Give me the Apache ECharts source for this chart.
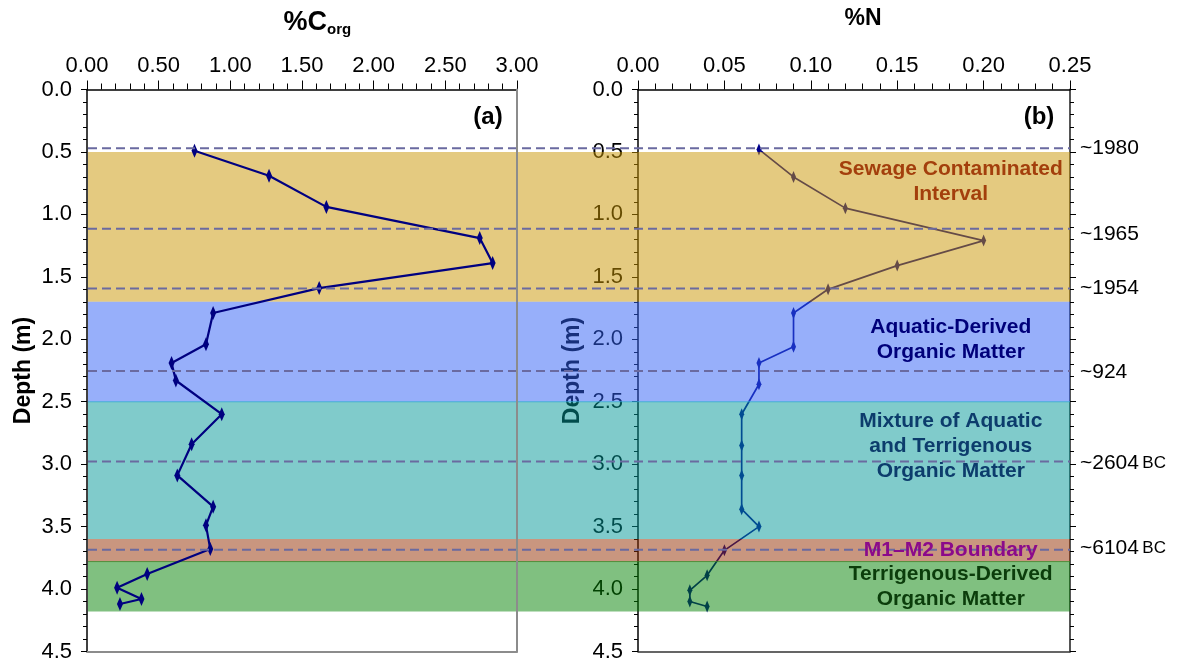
<!DOCTYPE html>
<html><head><meta charset="utf-8">
<script src="https://cdn.jsdelivr.net/npm/echarts@6/dist/echarts.min.js"></script>
<style>html,body{margin:0;padding:0;background:#fff}#c{width:1186px;height:665px}</style>
</head><body><div id="c"></div>
<script>
// ---------------- data ----------------
const corgDepth = [0.49,0.69,0.94,1.19,1.39,1.59,1.79,2.04,2.19,2.33,2.60,2.84,3.09,3.34,3.49,3.68,3.88,3.99,4.08,4.12];
const corgValue = [0.75,1.27,1.67,2.74,2.83,1.62,0.88,0.83,0.59,0.62,0.94,0.73,0.63,0.88,0.83,0.86,0.42,0.21,0.38,0.23];
const nDepth = [0.48,0.70,0.95,1.21,1.41,1.60,1.79,2.06,2.19,2.36,2.60,2.85,3.09,3.36,3.50,3.69,3.89,4.01,4.10,4.14];
const nValue = [0.070,0.090,0.120,0.200,0.150,0.110,0.090,0.090,0.070,0.070,0.060,0.060,0.060,0.060,0.070,0.050,0.040,0.030,0.030,0.040];
const bandTop    = [0.5, 1.7, 2.5, 3.6, 3.78];
const bandBottom = [1.7, 2.5, 3.6, 3.78, 4.18];
const bandLabel = ['Sewage Contaminated\nInterval', 'Aquatic-Derived\nOrganic Matter',
  'Mixture of Aquatic\nand Terrigenous\nOrganic Matter', 'M1\u2013M2 Boundary',
  'Terrigenous-Derived\nOrganic Matter'];
const bandLabelAnchor = [[0.181, 0.74], [0.181, 2.0], [0.181, 2.86], [0.181, 3.69], [0.181, 3.98]];
const horizonDepth = [0.47, 1.115, 1.593, 2.255, 2.978, 3.686];
const ageLabel = ['~1980', '~1965', '~1954', '~924', '~2604 BC', '~6104 BC'];
const ageLabelDepth = [0.47, 1.16, 1.59, 2.26, 2.99, 3.67];
const corgRange = [0, 3, 0.5];
const nRange = [0, 0.25, 0.05];
const depthRange = [0, 4.5, 0.5];

// ---------------- styles ----------------
const FONT = '"Liberation Sans", Arial, sans-serif';
const bandFill = ['rgba(201,149,1,0.5)', 'rgba(47,95,245,0.5)', 'rgba(1,151,151,0.5)', 'rgba(147,45,0,0.5)', 'rgba(1,129,1,0.5)'];
const bandEdge = [null, 'rgba(60,170,225,0.8)', null, 'rgba(80,130,50,0.8)', null];
const bandTextColor = ['#a33f0c', '#00007a', '#0c3c6c', '#8b0a8b', '#0b3d0b'];

const chart = echarts.init(document.getElementById('c'), null, {renderer: 'canvas'});

const tickLabel = {fontFamily: FONT, fontSize: 22, color: '#000'};
function topAxis(grid, r, digits) {
  return {
    type: 'value', gridIndex: grid, position: 'top', min: r[0], max: r[1], interval: r[2],
    axisLine: {show: true, onZero: false, lineStyle: {color: '#000', width: 1.5}},
    axisTick: {show: true, length: 9, lineStyle: {color: '#000', width: 1}},
    minorTick: {show: true, splitNumber: 5, length: 6, lineStyle: {color: '#000', width: 1}},
    axisLabel: Object.assign({margin: 13, formatter: v => v.toFixed(digits)}, tickLabel),
    splitLine: {show: false}, minorSplitLine: {show: false}
  };
}
function borderAxis(grid, pos, color, width, type, z) {
  const a = {
    type: 'value', gridIndex: grid, position: pos, min: type === 'x' ? 0 : depthRange[0], max: type === 'x' ? 1 : depthRange[1],
    axisLine: {show: true, onZero: false, lineStyle: {color: color, width: width}},
    axisTick: {show: false}, axisLabel: {show: false}, splitLine: {show: false}
  };
  if (type === 'y') a.inverse = true;
  if (z) a.z = z;
  return a;
}
function depthAxis(grid, nameGap) {
  return {
    type: 'value', gridIndex: grid, position: 'left', inverse: true,
    min: depthRange[0], max: depthRange[1], interval: depthRange[2],
    name: 'Depth (m)', nameLocation: 'middle', nameGap: nameGap,
    nameTextStyle: {fontFamily: FONT, fontSize: 23, fontWeight: 'bold', color: '#000'},
    axisLine: {show: true, onZero: false, lineStyle: {color: '#000', width: 1.5}},
    axisTick: {show: true, length: 6, lineStyle: {color: '#000', width: 1}},
    minorTick: {show: true, splitNumber: 5, length: 4, lineStyle: {color: '#000', width: 1}},
    axisLabel: Object.assign({margin: 15, formatter: v => v.toFixed(1)}, tickLabel),
    splitLine: {show: false}, minorSplitLine: {show: false}
  };
}

const option = {
  animation: false,
  backgroundColor: '#fff',
  grid: [
    {left: 87, top: 89.5, width: 430, height: 562, outerBoundsMode: 'none'},
    {left: 638, top: 89.5, width: 432, height: 562, outerBoundsMode: 'none'},
    {left: 88, top: 89.5, width: 982, height: 562, outerBoundsMode: 'none'}
  ],
  xAxis: [
    topAxis(0, corgRange, 2),
    borderAxis(0, 'bottom', '#8c8c8c', 2, 'x'),
    topAxis(1, nRange, 2),
    borderAxis(1, 'bottom', '#333', 1.5, 'x'),
    {type: 'value', gridIndex: 2, min: 0, max: 1, show: false}
  ],
  yAxis: [
    depthAxis(0, 52),
    borderAxis(0, 'right', '#8c8c8c', 2, 'y', 10),
    depthAxis(1, 54),
    {
      type: 'value', gridIndex: 1, position: 'right', inverse: true,
      min: depthRange[0], max: depthRange[1], interval: depthRange[2],
      axisLine: {show: true, onZero: false, lineStyle: {color: '#555', width: 2}},
      axisTick: {show: true, length: 6, lineStyle: {color: '#000', width: 1}},
      minorTick: {show: true, splitNumber: 5, length: 4, lineStyle: {color: '#000', width: 1}},
      axisLabel: {show: false}, splitLine: {show: false}
    },
    {type: 'value', gridIndex: 2, inverse: true, min: depthRange[0], max: depthRange[1], show: false}
  ],
  graphic: [
    {type: 'text', x: 327, y: 23, style: {text: '%C', font: 'bold 27px ' + FONT, fill: '#000', align: 'right', verticalAlign: 'middle'}},
    {type: 'text', x: 327, y: 30, style: {text: 'org', font: 'bold 15px ' + FONT, fill: '#000', align: 'left', verticalAlign: 'middle'}},
    {type: 'text', x: 863, y: 19, style: {text: '%N', font: 'bold 23px ' + FONT, fill: '#000', align: 'center', verticalAlign: 'middle'}},
    {type: 'text', x: 488, y: 117, style: {text: '(a)', font: 'bold 24px ' + FONT, fill: '#000', align: 'center', verticalAlign: 'middle'}},
    {type: 'text', x: 1039, y: 117, style: {text: '(b)', font: 'bold 24px ' + FONT, fill: '#000', align: 'center', verticalAlign: 'middle'}}
  ],
  series: [
    { // %N profile (drawn beneath the translucent bands)
      type: 'line', xAxisIndex: 2, yAxisIndex: 2, z: 1,
      data: nValue.map((v, i) => [v, nDepth[i]]),
      symbol: 'diamond', symbolSize: [5, 12], showSymbol: true,
      lineStyle: {color: '#00008c', width: 1.7},
      itemStyle: {color: '#00008c', opacity: 1},
      silent: true, clip: false
    },
    { // interval bands
      type: 'custom', xAxisIndex: 4, yAxisIndex: 4, z: 3, silent: true, clip: false,
      data: bandTop.map((t, i) => [0, t, bandBottom[i]]),
      encode: {x: 0, y: [1, 2]},
      renderItem: function (params, api) {
        const i = params.dataIndex;
        const p0 = api.coord([0, api.value(1)]);
        const p1 = api.coord([1, api.value(2)]);
        const children = [{type: 'rect', shape: {x: p0[0], y: p0[1], width: p1[0] - p0[0], height: p1[1] - p0[1]},
          style: {fill: bandFill[i]}}];
        if (bandEdge[i]) {
          children.push({type: 'line', shape: {x1: p0[0], y1: p1[1], x2: p1[0], y2: p1[1]},
            style: {stroke: bandEdge[i], lineWidth: 1}});
        }
        return {type: 'group', children: children};
      }
    },
    { // %Corg profile
      type: 'line', xAxisIndex: 0, yAxisIndex: 0, z: 5,
      data: corgValue.map((v, i) => [v, corgDepth[i]]),
      symbol: 'diamond', symbolSize: [6, 14], showSymbol: true,
      lineStyle: {color: '#000080', width: 2.2},
      itemStyle: {color: '#000080', opacity: 1},
      silent: true, clip: false
    },
    { // dated horizons
      type: 'custom', xAxisIndex: 4, yAxisIndex: 4, z: 6, silent: true, clip: false,
      data: horizonDepth.map(d => [0, d]),
      encode: {x: 0, y: 1},
      renderItem: function (params, api) {
        const p0 = api.coord([0, api.value(1)]);
        const p1 = api.coord([1, api.value(1)]);
        return {type: 'line', shape: {x1: p0[0], y1: p0[1], x2: p1[0], y2: p1[1]},
          style: {stroke: '#6a6aa0', lineWidth: 2, lineDash: [9, 5]}};
      }
    },
    { // band labels
      type: 'scatter', xAxisIndex: 2, yAxisIndex: 2, z: 7, silent: true, clip: false,
      symbolSize: 0, itemStyle: {opacity: 1},
      data: bandLabelAnchor.map((p, i) => ({value: p, label: {color: bandTextColor[i]}})),
      label: {show: true, position: 'inside', formatter: p => bandLabel[p.dataIndex], opacity: 1,
        fontFamily: FONT, fontSize: 21, fontWeight: 'bold', lineHeight: 25, align: 'center', verticalAlign: 'middle'}
    },
    { // age labels
      type: 'scatter', xAxisIndex: 2, yAxisIndex: 2, z: 7, silent: true, clip: false,
      symbolSize: 0, itemStyle: {opacity: 1},
      data: ageLabelDepth.map(d => [nRange[1], d]),
      label: {show: true, position: 'right', distance: 10, color: '#000', opacity: 1,
        formatter: p => {
          const s = ageLabel[p.dataIndex];
          return s.indexOf(' BC') > 0 ? '{n|' + s.replace(' BC', '') + '} {bc|BC}' : '{n|' + s + '}';
        },
        rich: {n: {fontFamily: FONT, fontSize: 21, color: '#000'}, bc: {fontFamily: FONT, fontSize: 17, color: '#000'}}
      }
    }
  ]
};
chart.setOption(option);
</script>
</body></html>
